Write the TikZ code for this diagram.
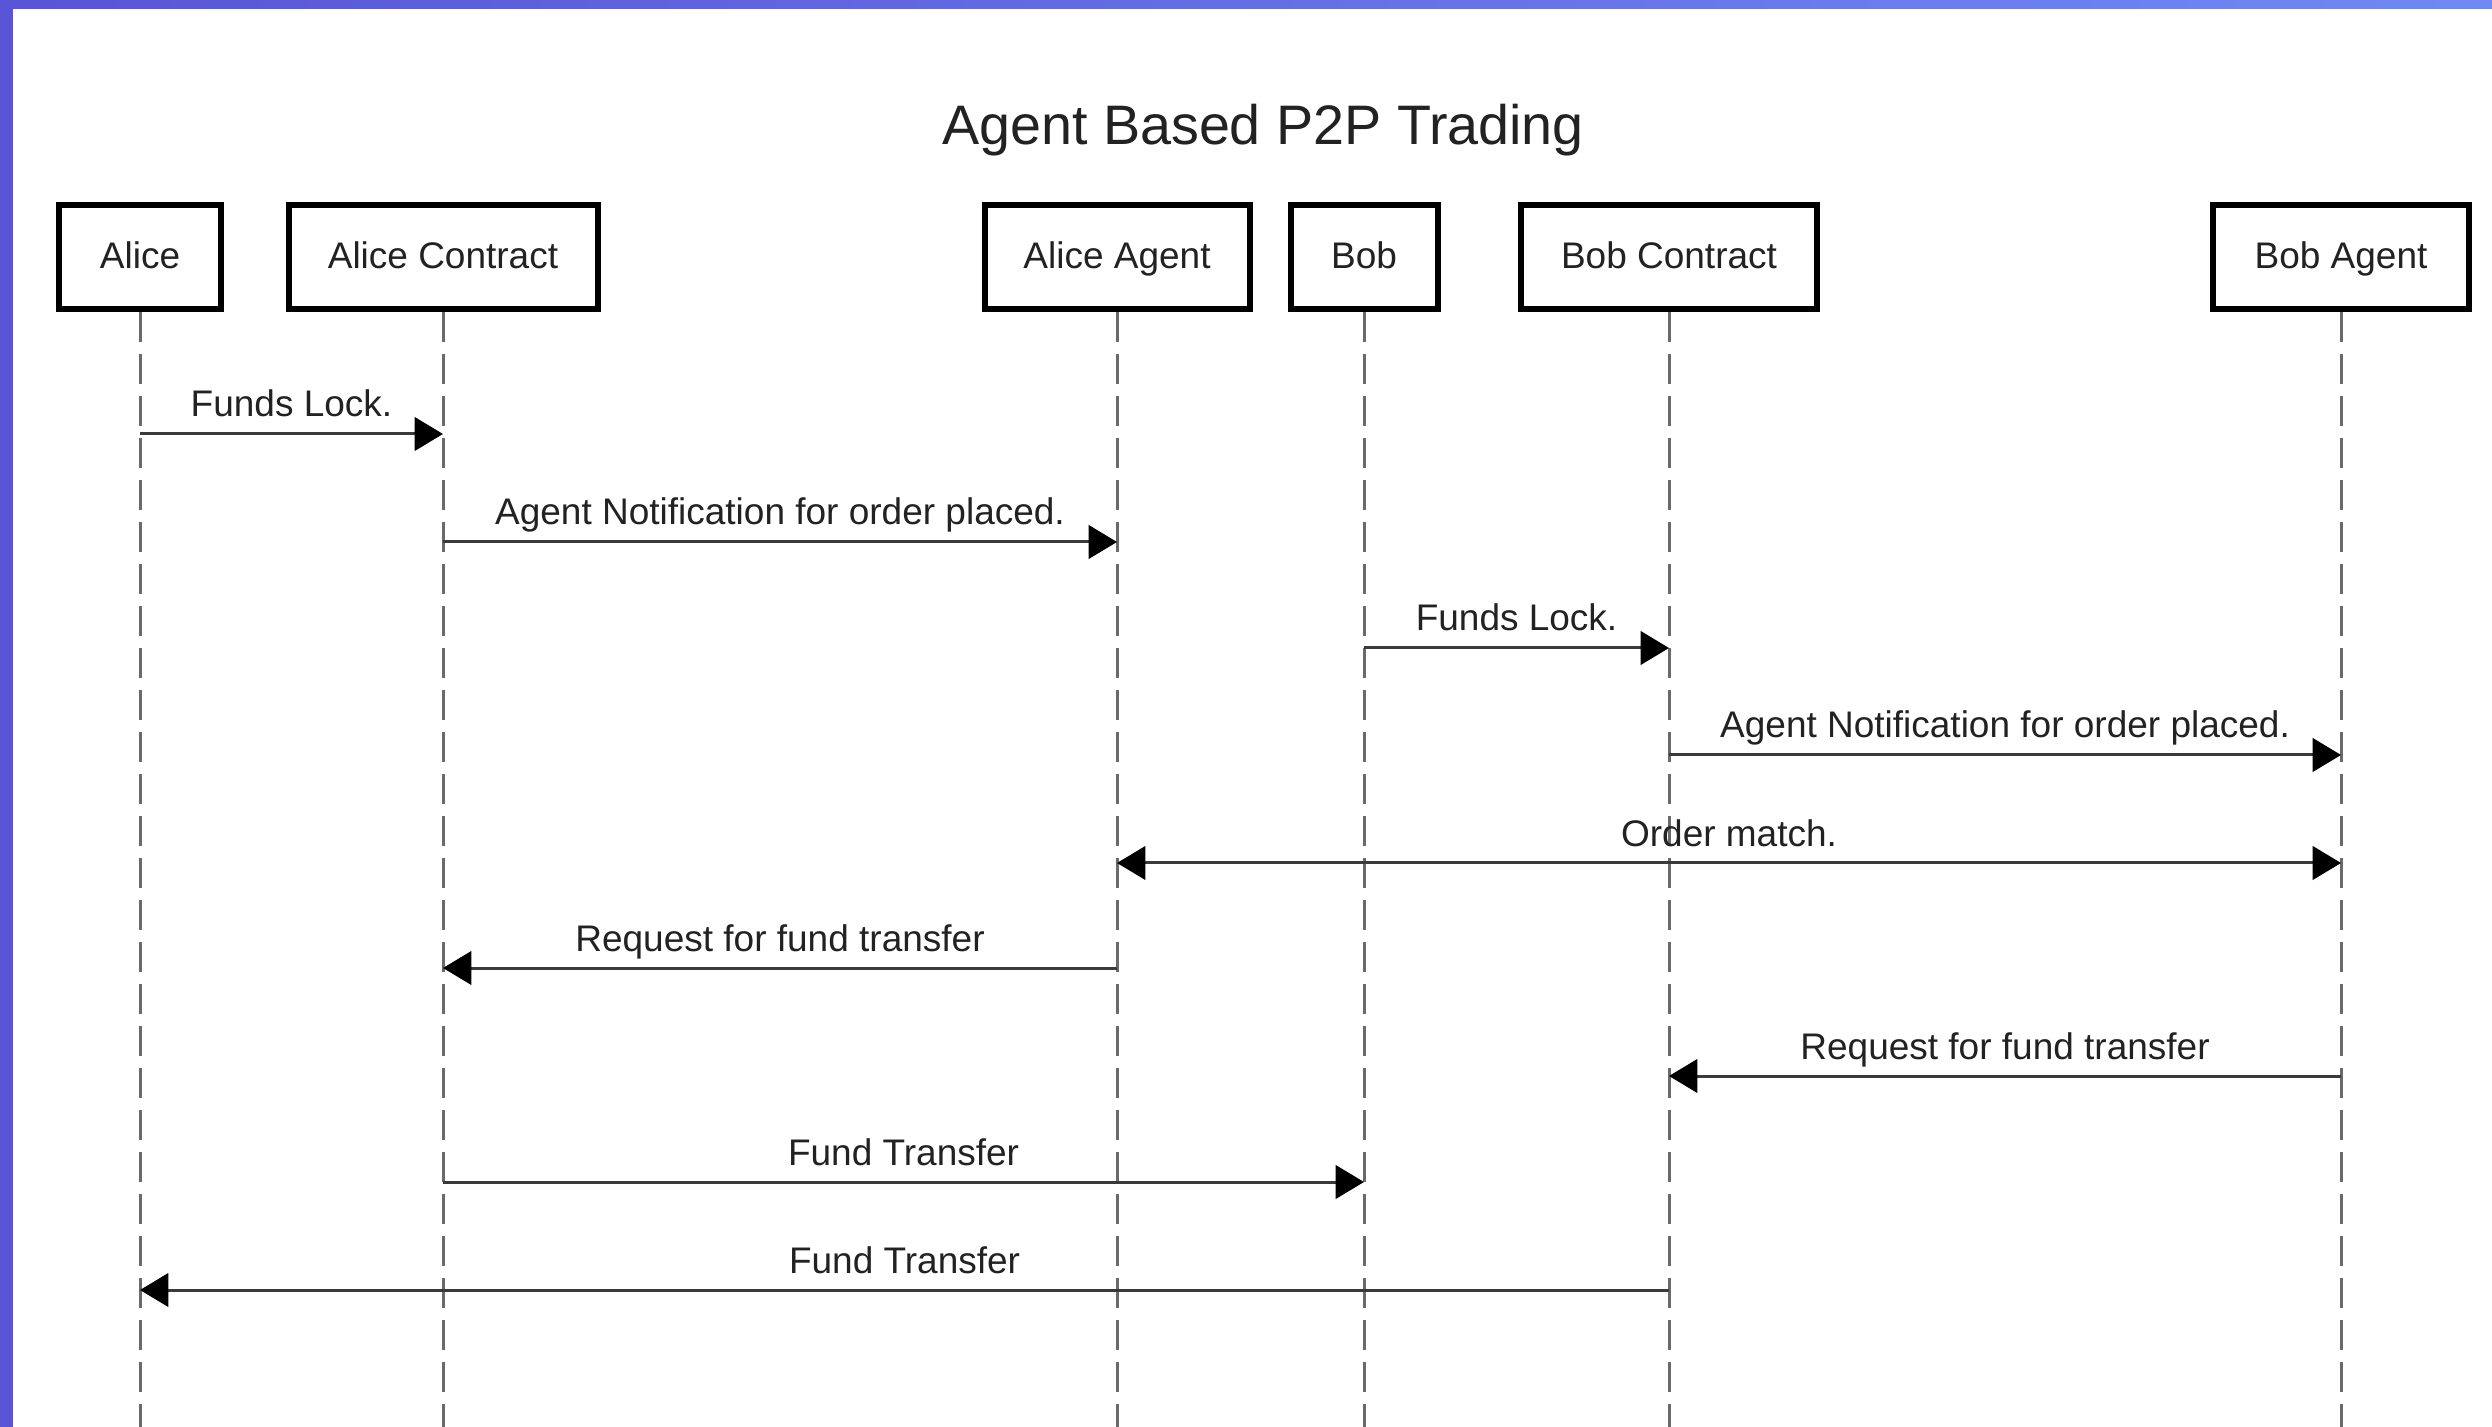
\documentclass[tikz,border=0pt]{standalone}
\usepackage{fontspec}
\setmainfont{Liberation Sans}
\usetikzlibrary{arrows.meta}
\definecolor{barL}{HTML}{5A54D6}
\definecolor{barR}{HTML}{7089F2}
\definecolor{msgc}{HTML}{3A3A3A}
\definecolor{lifec}{HTML}{6A6A6A}
\definecolor{txt}{HTML}{222222}
\begin{document}
\begin{tikzpicture}[x=0.3pt,y=-0.3pt,
  actor/.style={draw=black,line width=1.8pt,fill=white,inner sep=0pt,minimum height=31.2pt,
    text height=1.55ex,text depth=0.25ex,
    font=\fontsize{11.1}{13}\selectfont,text=txt},
  life/.style={draw=lifec,line width=0.9pt,dash pattern=on 9pt off 3.6pt},
  msg/.style={draw=msgc,line width=0.9pt,-{Triangle[length=8.5pt,width=10pt,color=black]}},
  msgboth/.style={draw=msgc,line width=0.9pt,{Triangle[length=8.5pt,width=10pt,color=black]}-{Triangle[length=8.5pt,width=10pt,color=black]}},
  lbl/.style={anchor=base,font=\fontsize{11.1}{13}\selectfont,text=txt,inner sep=0pt}]
\useasboundingbox (0,0) rectangle (2492,1427);
\fill[white] (0,0) rectangle (2492,1427);
\shade[left color=barL,right color=barR] (0,0) rectangle (2492,9);
\fill[barL] (0,0) rectangle (13,1427);

\node[font=\fontsize{16.7}{20}\selectfont,text=txt] (title) at (1263,130) {Agent Based P2P Trading};

\node[actor,minimum width=48.6pt] (alice) at (140,257.5) {Alice};
\node[actor,minimum width=92.7pt] (alicec) at (443,257.5) {Alice Contract};
\node[actor,minimum width=79.5pt] (aliceag) at (1117,257.5) {Alice Agent};
\node[actor,minimum width=44.1pt] (bob) at (1364,257.5) {Bob};
\node[actor,minimum width=88.8pt] (bobc) at (1669,257.5) {Bob Contract};
\node[actor,minimum width=76.8pt] (bobag) at (2341,257.5) {Bob Agent};

\coordinate (bottom) at (0,1427);
\foreach \n in {alice,alicec,aliceag,bob,bobc,bobag}
  \draw[life] (\n.south) -- (\n |- bottom);

\coordinate (r1) at (0,434);
\coordinate (r2) at (0,542);
\coordinate (r3) at (0,648);
\coordinate (r4) at (0,755);
\coordinate (r5) at (0,863);
\coordinate (r6) at (0,968);
\coordinate (r7) at (0,1076);
\coordinate (r8) at (0,1182);
\coordinate (r9) at (0,1290);

\draw[msg] (alice |- r1) -- (alicec |- r1) node[lbl,midway,yshift=5.1pt] {Funds Lock.};
\draw[msg] (alicec |- r2) -- (aliceag |- r2) node[lbl,midway,yshift=5.1pt] {Agent Notification for order placed.};
\draw[msg] (bob |- r3) -- (bobc |- r3) node[lbl,midway,yshift=5.1pt] {Funds Lock.};
\draw[msg] (bobc |- r4) -- (bobag |- r4) node[lbl,midway,yshift=5.1pt] {Agent Notification for order placed.};
\draw[msgboth] (aliceag |- r5) -- (bobag |- r5) node[lbl,midway,yshift=5.1pt] {Order match.};
\draw[msg] (aliceag |- r6) -- (alicec |- r6) node[lbl,midway,yshift=5.1pt] {Request for fund transfer};
\draw[msg] (bobag |- r7) -- (bobc |- r7) node[lbl,midway,yshift=5.1pt] {Request for fund transfer};
\draw[msg] (alicec |- r8) -- (bob |- r8) node[lbl,midway,yshift=5.1pt] {Fund Transfer};
\draw[msg] (bobc |- r9) -- (alice |- r9) node[lbl,midway,yshift=5.1pt] {Fund Transfer};
\end{tikzpicture}
\end{document}
